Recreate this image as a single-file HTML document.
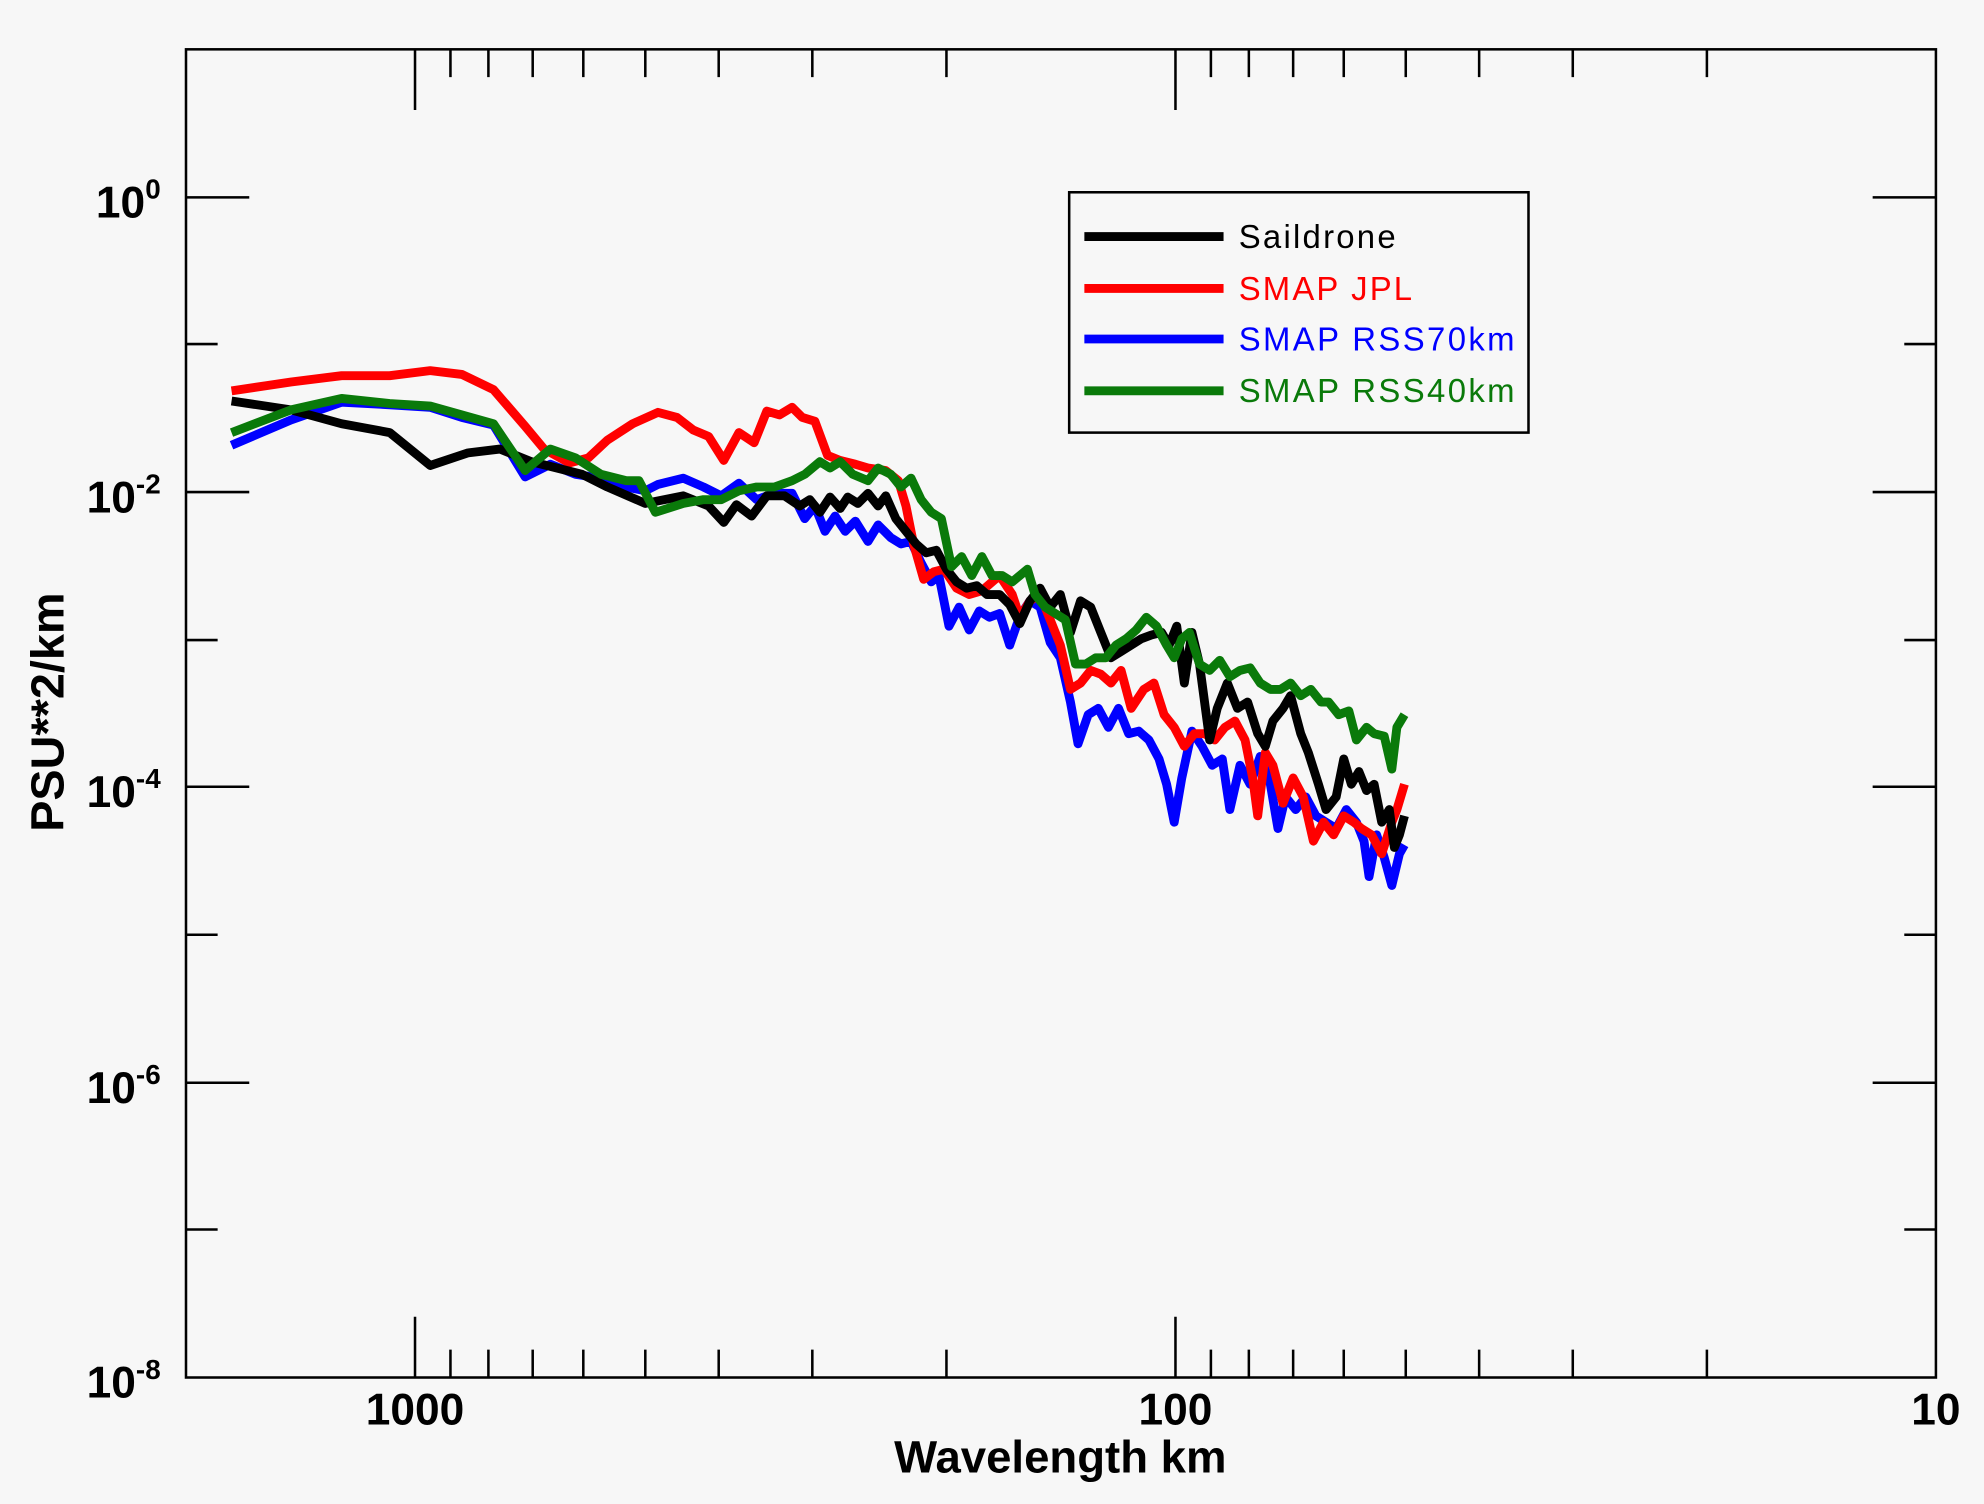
<!DOCTYPE html>
<html><head><meta charset="utf-8"><style>html,body{margin:0;padding:0;background:#f7f7f7}svg{display:block}</style></head><body>
<svg width="1984" height="1504" viewBox="0 0 1568 1189" preserveAspectRatio="none" xmlns="http://www.w3.org/2000/svg" font-family="Liberation Sans, sans-serif">
<rect width="1568" height="1189" fill="#f7f7f7"/>
<g stroke="#000" stroke-width="2" fill="none">
<rect x="147" y="39" width="1383" height="1050"/>
<path d="M147 156h50M147 389h50M147 622h50M147 856h50M1530 156h-50M1530 389h-50M1530 622h-50M1530 856h-50"/>
<path d="M147 272h25M147 506h25M147 739h25M147 972h25M1530 272h-25M1530 506h-25M1530 739h-25M1530 972h-25"/>
<path d="M328 39v48M929 39v48M328 1089v-48M929 1089v-48"/>
<path d="M356 39v22M386 39v22M421 39v22M461 39v22M510 39v22M568 39v22M642 39v22M748 39v22M957 39v22M987 39v22M1022 39v22M1062 39v22M1111 39v22M1169 39v22M1243 39v22M1349 39v22"/>
<path d="M356 1089v-22M386 1089v-22M421 1089v-22M461 1089v-22M510 1089v-22M568 1089v-22M642 1089v-22M748 1089v-22M957 1089v-22M987 1089v-22M1022 1089v-22M1062 1089v-22M1111 1089v-22M1169 1089v-22M1243 1089v-22M1349 1089v-22"/>
</g>
<g font-weight="bold" font-size="35" fill="#000">
<text x="127" y="172" text-anchor="end">10<tspan font-size="22" dy="-15">0</tspan></text>
<text x="127" y="405" text-anchor="end">10<tspan font-size="22" dy="-15">-2</tspan></text>
<text x="127" y="638" text-anchor="end">10<tspan font-size="22" dy="-15">-4</tspan></text>
<text x="127" y="872" text-anchor="end">10<tspan font-size="22" dy="-15">-6</tspan></text>
<text x="127" y="1105" text-anchor="end">10<tspan font-size="22" dy="-15">-8</tspan></text>
<text x="328" y="1126" text-anchor="middle">1000</text>
<text x="929" y="1126" text-anchor="middle">100</text>
<text x="1530" y="1126" text-anchor="middle">10</text>
<text x="838" y="1164" text-anchor="middle" font-size="36">Wavelength km</text>
<text transform="translate(50,563) rotate(-90)" text-anchor="middle" font-size="37">PSU**2/km</text>
</g>
<g fill="none" stroke-width="7" stroke-linejoin="round">
<polyline stroke="#0000ff" points="183,352 230,332 270,318 308,320 340,322 365,330 390,336 415,377 435,367 455,375 475,378 495,385 510,388 520,383 540,378 556,385 570,392 584,382 598,395 612,390 626,390 636,410 644,400 652,420 660,408 668,420 676,412 686,428 694,415 704,425 712,430 720,428 728,445 736,460 742,455 750,495 758,480 766,498 774,483 782,488 790,485 798,510 806,487 814,475 822,480 830,508 838,520 846,555 852,588 860,565 868,560 876,575 884,560 892,580 900,578 908,585 916,600 922,620 928,650 934,615 942,578 950,590 958,605 966,600 972,640 980,605 988,620 996,598 1004,620 1010,655 1016,630 1024,640 1032,630 1040,645 1048,650 1056,655 1064,640 1072,650 1078,665 1082,693 1088,660 1094,678 1100,700 1106,675 1110,668"/>
<polyline stroke="#ff0000" points="183,309 230,302 270,297 308,297 340,293 365,296 390,308 415,337 430,355 450,366 465,362 480,348 500,335 520,326 535,330 548,340 560,345 572,364 584,342 596,350 606,325 616,328 626,322 634,330 644,333 654,360 664,364 676,367 686,370 700,372 710,380 716,400 722,430 730,458 738,452 746,450 756,465 766,470 776,467 790,455 800,470 806,488 814,475 822,470 830,490 838,510 846,545 854,540 862,530 870,533 878,540 886,530 894,560 904,545 912,540 920,565 928,575 936,590 944,580 952,580 960,585 968,575 976,570 984,585 990,615 994,645 1000,595 1006,605 1014,635 1022,615 1030,630 1038,665 1046,650 1054,660 1062,645 1070,650 1076,655 1084,660 1092,675 1100,650 1104,640 1110,620"/>
<polyline stroke="#000000" points="183,317 230,324 270,335 308,342 340,368 370,358 395,355 420,365 460,375 480,385 510,398 540,392 560,400 572,413 582,399 594,408 606,392 620,392 632,400 640,395 648,405 656,393 664,402 670,393 678,398 686,390 694,400 700,392 708,410 716,420 724,430 732,437 740,435 748,450 756,460 764,465 772,463 780,470 790,470 798,478 806,493 814,475 822,465 830,480 838,470 846,500 854,475 862,480 870,500 878,520 886,515 894,510 902,505 910,502 918,500 924,510 930,495 936,540 942,500 948,525 956,585 962,560 970,540 978,560 986,555 994,580 1000,590 1006,570 1014,560 1020,550 1028,580 1034,595 1042,620 1048,640 1056,630 1062,600 1068,620 1074,610 1080,625 1086,620 1092,650 1098,640 1102,670 1106,660 1110,645"/>
<polyline stroke="#0a7a0a" points="183,342 230,324 270,315 308,319 340,321 365,328 390,335 415,372 435,355 455,362 475,375 495,380 505,380 518,405 540,398 556,395 570,395 584,388 598,385 612,385 626,380 636,375 648,365 656,370 664,365 674,375 686,380 694,370 704,375 712,385 720,378 728,395 736,405 744,410 752,448 760,440 768,455 776,440 784,455 792,455 800,460 812,450 818,470 826,480 834,485 842,490 850,525 858,525 866,520 874,520 882,510 890,505 898,498 906,488 914,495 922,510 928,520 934,505 940,500 948,525 956,530 964,522 972,535 980,530 988,528 996,540 1004,545 1012,545 1020,540 1028,550 1036,545 1044,555 1050,555 1058,565 1066,562 1072,585 1080,575 1086,580 1094,582 1100,608 1104,575 1110,565"/>
</g>
<rect x="845" y="152" width="363" height="190" fill="#f7f7f7" stroke="#000" stroke-width="2"/>
<g stroke-width="7">
<line x1="857" y1="187" x2="967" y2="187" stroke="#000"/>
<line x1="857" y1="228" x2="967" y2="228" stroke="#ff0000"/>
<line x1="857" y1="268" x2="967" y2="268" stroke="#0000ff"/>
<line x1="857" y1="309" x2="967" y2="309" stroke="#0a7a0a"/>
</g>
<g font-size="26">
<text x="979" y="196" fill="#000" textLength="124">Saildrone</text>
<text x="979" y="237" fill="#ff0000" textLength="137">SMAP JPL</text>
<text x="979" y="277" fill="#0000ff" textLength="218">SMAP RSS70km</text>
<text x="979" y="318" fill="#0a7a0a" textLength="218">SMAP RSS40km</text>
</g>
</svg>
</body></html>
